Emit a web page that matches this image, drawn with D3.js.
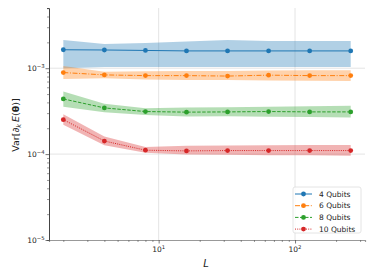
<!DOCTYPE html>
<html><head><meta charset="utf-8">
<script src="https://cdn.jsdelivr.net/npm/d3@7"></script>
<style>body{margin:0;background:#fff}svg{display:block}text{font-family:"DejaVu Sans",sans-serif}</style>
</head><body>
<script>
const L = [2, 4, 8, 16, 32, 64, 128, 256];
const seriesNames = ["4 Qubits", "6 Qubits", "8 Qubits", "10 Qubits"];
const mean4  = [1.64e-3, 1.63e-3, 1.61e-3, 1.59e-3, 1.59e-3, 1.59e-3, 1.59e-3, 1.59e-3];
const lo4    = [1.00e-3, 1.03e-3, 1.03e-3, 1.03e-3, 1.03e-3, 1.03e-3, 1.03e-3, 1.03e-3];
const hi4    = [2.13e-3, 1.92e-3, 1.97e-3, 2.04e-3, 2.13e-3, 2.08e-3, 2.08e-3, 2.08e-3];
const mean6  = [8.9e-4, 8.36e-4, 8.2e-4, 8.2e-4, 8.1e-4, 8.3e-4, 8.2e-4, 8.2e-4];
const lo6    = [7.5e-4, 7.65e-4, 7.4e-4, 7.3e-4, 7.3e-4, 7.2e-4, 7.15e-4, 7.1e-4];
const hi6    = [1.06e-3, 9.1e-4, 9.2e-4, 9.3e-4, 9.3e-4, 9.4e-4, 9.45e-4, 9.48e-4];
const mean8  = [4.39e-4, 3.45e-4, 3.13e-4, 3.08e-4, 3.10e-4, 3.13e-4, 3.10e-4, 3.10e-4];
const lo8    = [3.57e-4, 3.08e-4, 2.86e-4, 2.74e-4, 2.75e-4, 2.72e-4, 2.70e-4, 2.67e-4];
const hi8    = [5.35e-4, 3.85e-4, 3.43e-4, 3.48e-4, 3.50e-4, 3.55e-4, 3.60e-4, 3.65e-4];
const mean10 = [2.52e-4, 1.42e-4, 1.11e-4, 1.09e-4, 1.10e-4, 1.10e-4, 1.10e-4, 1.10e-4];
const lo10   = [2.19e-4, 1.27e-4, 1.04e-4, 0.99e-4, 0.98e-4, 0.97e-4, 0.97e-4, 0.96e-4];
const hi10   = [2.92e-4, 1.60e-4, 1.21e-4, 1.25e-4, 1.26e-4, 1.27e-4, 1.28e-4, 1.28e-4];
const xTicks = [10, 100];
const yTicks = [1e-5, 1e-4, 1e-3];

const colors = ["#1f77b4", "#ff7f0e", "#2ca02c", "#d62728"];
const dashes = [null, "5,1.6,1,1.6", "3.5,1.5", "1,1.2"];
const series = [
  {name: seriesNames[0], mean: mean4, lo: lo4, hi: hi4},
  {name: seriesNames[1], mean: mean6, lo: lo6, hi: hi6},
  {name: seriesNames[2], mean: mean8, lo: lo8, hi: hi8},
  {name: seriesNames[3], mean: mean10, lo: lo10, hi: hi10}
];

const W = 374, H = 280;
const mLeft = 49, mRight = 365, mTop = 8, mBottom = 240;
const svg = d3.select("body").append("svg").attr("width", W).attr("height", H);

const x = d3.scaleLog().domain([Math.pow(10, 0.196), Math.pow(10, 2.513)]).range([mLeft, mRight]);
const y = d3.scaleLog().domain([1e-5, Math.pow(10, -2.299)]).range([mBottom, mTop]);

// grid
svg.append("g").selectAll("line").data(xTicks).join("line")
  .attr("x1", d => x(d)).attr("x2", d => x(d)).attr("y1", mTop).attr("y2", mBottom)
  .attr("stroke", "#ddd").attr("stroke-width", 0.8);
svg.append("g").selectAll("line").data(yTicks.filter(d => d > 1e-5)).join("line")
  .attr("x1", mLeft).attr("x2", mRight).attr("y1", d => y(d)).attr("y2", d => y(d))
  .attr("stroke", "#ddd").attr("stroke-width", 0.8);

// bands
const area = d3.area().x((d, i) => x(L[i])).y0(d => y(d[0])).y1(d => y(d[1]));
const line = d3.line().x((d, i) => x(L[i])).y(d => y(d));
series.forEach((s, k) => {
  svg.append("path").datum(s.lo.map((v, i) => [v, s.hi[i]]))
    .attr("d", area).attr("fill", colors[k]).attr("fill-opacity", 0.35);
});
series.forEach((s, k) => {
  svg.append("path").datum(s.mean).attr("d", line).attr("fill", "none")
    .attr("stroke", colors[k]).attr("stroke-width", 1)
    .attr("stroke-dasharray", dashes[k]);
  svg.append("g").selectAll("circle").data(s.mean).join("circle")
    .attr("cx", (d, i) => x(L[i])).attr("cy", d => y(d)).attr("r", 2.4)
    .attr("fill", colors[k]);
});

// axes
const xAxis = d3.axisBottom(x).tickValues(x.ticks()).tickSize(2).tickFormat("");
const gx = svg.append("g").attr("transform", `translate(0,${mBottom})`).call(xAxis);
gx.select(".domain").attr("stroke", "#999").attr("stroke-width", 1.2);
gx.selectAll(".tick line").attr("stroke", "#555").attr("stroke-width", 0.6);
gx.selectAll(".tick").filter(d => xTicks.includes(d)).select("line").attr("y2", 3.5).attr("stroke-width", 0.8);

const yAxis = d3.axisLeft(y).tickValues(y.ticks()).tickSize(2).tickFormat("");
const gy = svg.append("g").attr("transform", `translate(${mLeft},0)`).call(yAxis);
gy.select(".domain").attr("stroke", "#444").attr("stroke-width", 1);
gy.selectAll(".tick line").attr("stroke", "#555").attr("stroke-width", 0.6);
gy.selectAll(".tick").filter(d => yTicks.some(t => Math.abs(t - d) / t < 1e-6)).select("line").attr("x2", -3.5).attr("stroke-width", 0.8);

// tick labels
const xl = svg.append("g").selectAll("text").data(xTicks).join("text")
  .attr("x", d => x(d)).attr("y", mBottom + 12).attr("text-anchor", "middle")
  .attr("font-size", 7.5).attr("fill", "#222");
xl.append("tspan").text("10");
xl.append("tspan").attr("dy", -3.2).attr("font-size", 5.3).text(d => Math.round(Math.log10(d)));

const yl = svg.append("g").selectAll("text").data(yTicks).join("text")
  .attr("x", mLeft - 4.5).attr("y", d => y(d) + 2.7).attr("text-anchor", "end")
  .attr("font-size", 7.5).attr("fill", "#222");
yl.append("tspan").text("10");
yl.append("tspan").attr("dy", -3.2).attr("font-size", 5.3).text(d => "\u2212" + Math.round(-Math.log10(d)));

// axis titles
svg.append("text").attr("x", 206).attr("y", 267).attr("text-anchor", "middle")
  .attr("font-size", 10).attr("font-style", "italic").attr("fill", "#222").text("L");
const yt = svg.append("text").attr("transform", `translate(19,${(mTop + mBottom) / 2 + 1}) rotate(-90)`)
  .attr("text-anchor", "middle").attr("font-size", 9.5).attr("fill", "#222");
yt.append("tspan").text("Var[\u2202");
yt.append("tspan").attr("font-size", 6.6).attr("dy", 2).attr("font-style", "italic").text("k");
yt.append("tspan").attr("dy", -2).attr("font-style", "italic").text("\u2009E");
yt.append("tspan").text("(");
yt.append("tspan").attr("font-weight", "bold").text("\u03B8");
yt.append("tspan").text(")]");

// legend
const lg = svg.append("g").attr("transform", "translate(293,187)");
lg.append("rect").attr("width", 68).attr("height", 46).attr("rx", 2)
  .attr("fill", "#fff").attr("fill-opacity", 0.8).attr("stroke", "#ddd").attr("stroke-width", 0.8);
series.forEach((s, k) => {
  const ly = 7 + k * 11.7;
  lg.append("line").attr("x1", 2).attr("x2", 19).attr("y1", ly).attr("y2", ly)
    .attr("stroke", colors[k]).attr("stroke-width", 1).attr("stroke-dasharray", dashes[k]);
  lg.append("circle").attr("cx", 10.5).attr("cy", ly).attr("r", 2.4).attr("fill", colors[k]);
  lg.append("text").attr("x", 26).attr("y", ly + 2.7).attr("font-size", 7.5).attr("fill", "#222").text(s.name);
});
</script>
</body></html>
